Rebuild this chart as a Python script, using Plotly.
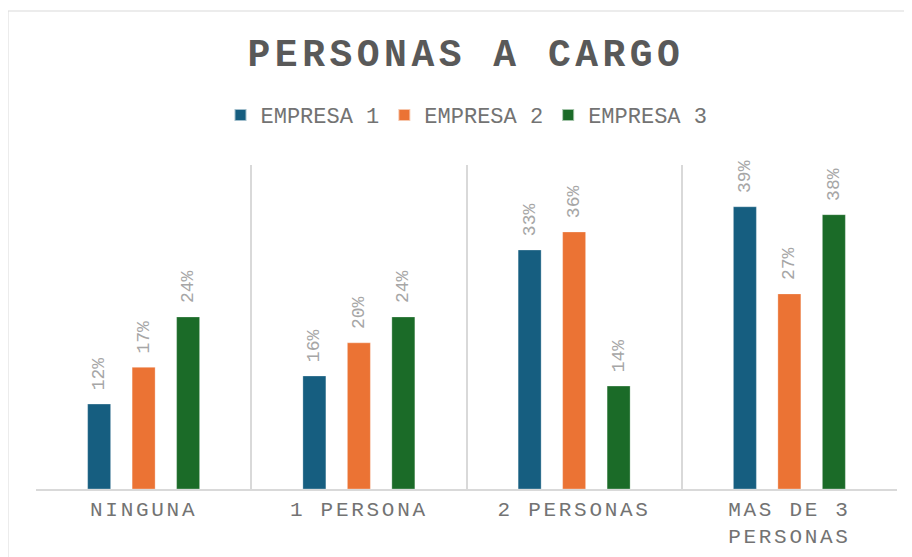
import plotly.graph_objects as go

categories = ["NINGUNA", "1 PERSONA", "2 PERSONAS", "MAS DE 3<br>PERSONAS"]
series_names = ["EMPRESA 1", "EMPRESA 2", "EMPRESA 3"]
empresa1 = [0.118, 0.157, 0.332, 0.392]
empresa2 = [0.169, 0.203, 0.357, 0.271]
empresa3 = [0.239, 0.239, 0.143, 0.381]
colors = ["#165E80", "#EB7334", "#1B6B28"]

FONT = "Liberation Mono, Courier New, monospace"

# page body has an 8px default margin; layout numbers below are offset for it
fig = go.Figure()
for name, vals, col in zip(series_names, [empresa1, empresa2, empresa3], colors):
    fig.add_trace(go.Bar(
        name=name, x=categories, y=vals,
        marker=dict(color=col, line=dict(color="rgba(255,255,255,0.6)", width=0.5)),
        texttemplate="\u00a0%{y:.0%}",
        textposition="outside",
        textangle=-90,
        constraintext="none",
        cliponaxis=False,
        textfont=dict(family=FONT, size=18, color="#A6A6A6"),
        outsidetextfont=dict(family=FONT, size=18, color="#A6A6A6"),
    ))

fig.update_layout(
    width=912, height=557,
    margin=dict(l=28, r=23, t=157, b=76),
    paper_bgcolor="white", plot_bgcolor="white",
    barmode="group", bargap=0.38, bargroupgap=0.483,
    title=dict(text="<b>PERSONAS A CARGO</b>", x=(466 - 8) / 912, xanchor="center",
               y=1 - 45 / 557, yanchor="middle",
               font=dict(family=FONT, size=38, color="#595959")),
    legend=dict(orientation="h", x=0.5, xanchor="center", y=1.154, yanchor="middle",
                font=dict(family=FONT, size=22, color="#737373"),
                itemsizing="constant"),
    xaxis=dict(tickson="boundaries", showgrid=True, gridcolor="#D9D9D9", gridwidth=1.5,
               showline=True, linecolor="#D9D9D9", linewidth=1.5, automargin=False,
               ticks="", tickfont=dict(family=FONT, size=21, color="#737373")),
    yaxis=dict(range=[0, 0.45], visible=False, showgrid=False),
    shapes=[dict(type="rect", xref="paper", yref="paper",
                 x0=(0 - 28) / 861, x1=1.2, y0=-0.5, y1=(481 - 3) / 324,
                 line=dict(color="#D9D9D9", width=1), fillcolor="rgba(0,0,0,0)", layer="below")],
)

post = """
var gd = document.getElementById('{plot_id}');
gd.querySelectorAll('.xtick text').forEach(function(t){ t.style.letterSpacing = '2.7px'; });
gd.querySelectorAll('.gtitle').forEach(function(t){ t.style.letterSpacing = '4.5px'; });
"""
fig.write_html("out.html", post_script=post)
